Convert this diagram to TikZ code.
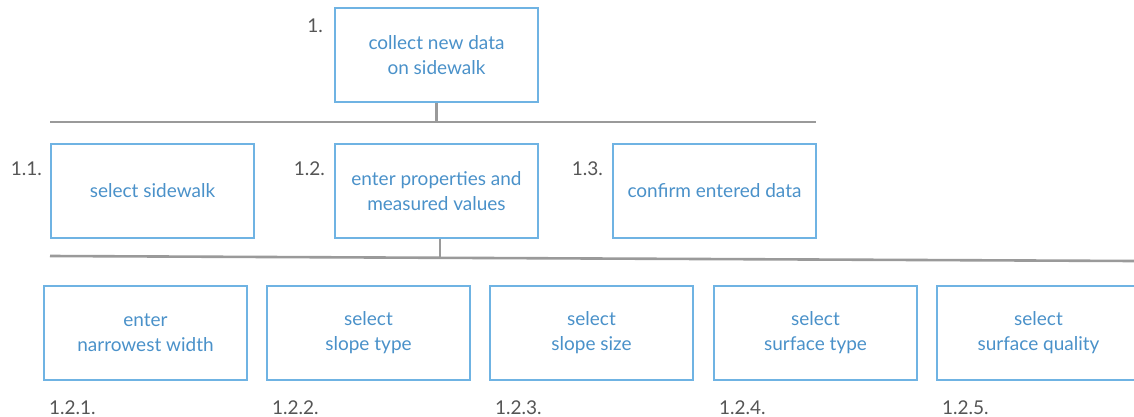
\documentclass[tikz,border=0pt]{standalone}
\usepackage{fontspec}
\setmainfont{Lato}
\definecolor{boxblue}{HTML}{6FB3E3}
\definecolor{txtblue}{HTML}{4A91C9}
\definecolor{linegray}{HTML}{9A9A9A}
\definecolor{numgray}{HTML}{555555}
\tikzset{
  wbs/.style={draw=boxblue, line width=1.3pt, minimum width=203pt, minimum height=94pt,
    inner sep=0pt, text=txtblue, align=center, font=\fontsize{19}{25}\selectfont},
  num/.style={text=numgray, inner sep=0pt, font=\fontsize{19}{21}\selectfont},
  conn/.style={draw=linegray, line width=2.6pt},
}
\begin{document}
\begin{tikzpicture}[x=1pt,y=-1pt]
\useasboundingbox (0,0) rectangle (1134,417);
\begin{scope}
\clip (0,0) rectangle (1134,417);
% level 1
\node[wbs] (n1) at (436.5,55) {collect new data\\on sidewalk};
\node[num, anchor=base east] (l1) at (323,33) {1.};
% level 2
\node[wbs] (n11) at (152.5,191) {select sidewalk};
\node[wbs] (n12) at (436.5,191) {enter properties and\\measured values};
\node[wbs] (n13) at (714.5,191) {confirm entered data};
\node[num, anchor=base east] (l11) at (42,175) {1.1.};
\node[num, anchor=base east] (l12) at (325,175) {1.2.};
\node[num, anchor=base east] (l13) at (603,175) {1.3.};
% level 3
\node[wbs] (n121) at (145.5,333) {enter\\narrowest width};
\node[wbs] (n122) at (368.5,333) {select\\slope type};
\node[wbs] (n123) at (591.5,333) {select\\slope size};
\node[wbs] (n124) at (815.5,333) {select\\surface type};
\node[wbs] (n125) at (1038.5,333) {select\\surface quality};
\node[num, anchor=base west] (l121) at (49,414) {1.2.1.};
\node[num, anchor=base west] (l122) at (272,414) {1.2.2.};
\node[num, anchor=base west] (l123) at (495,414) {1.2.3.};
\node[num, anchor=base west] (l124) at (719,414) {1.2.4.};
\node[num, anchor=base west] (l125) at (942,414) {1.2.5.};
% connectors
\coordinate (b1l) at (50,122);
\coordinate (b1r) at (816,122);
\coordinate (b2l) at (50,256);
\coordinate (b2r) at (1134,261);
\draw[conn] (b1l) -- (b1r);
\draw[conn] (n1.south) -- (n1.south |- b1l);
\draw[conn] (b2l) -- (b2r);
\draw[conn] ([xshift=3.5pt]n12.south) -- ++(0,19);
\end{scope}
\end{tikzpicture}
\end{document}
